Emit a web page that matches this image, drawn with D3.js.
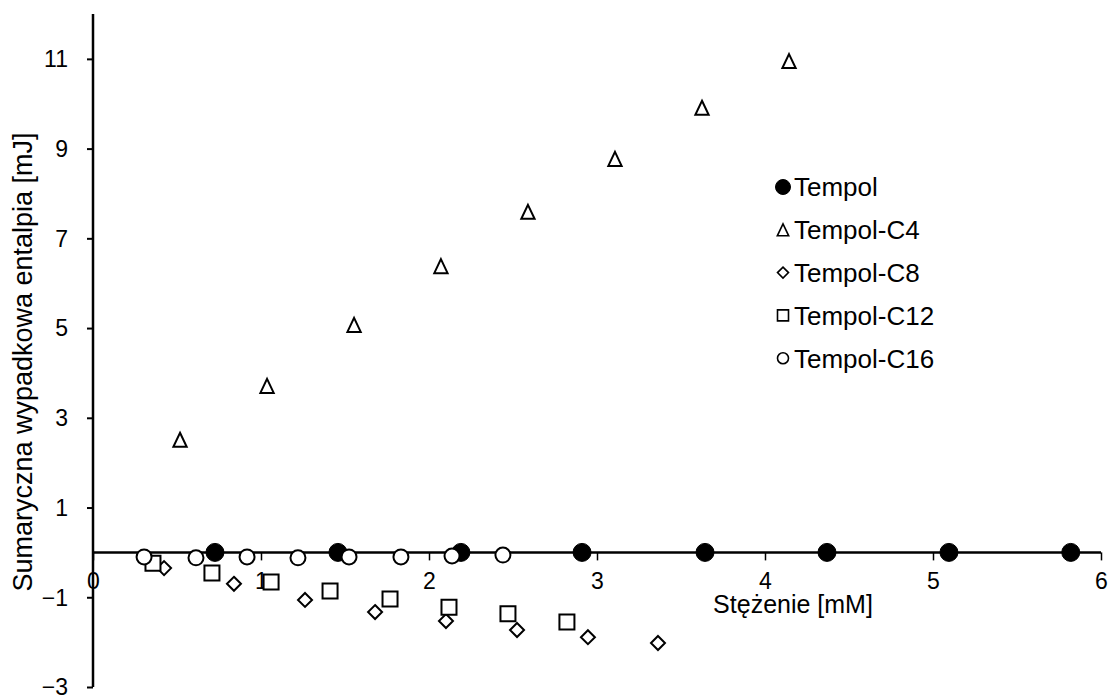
<!DOCTYPE html>
<html>
<head>
<meta charset="utf-8">
<script src="https://cdn.jsdelivr.net/npm/d3@7"></script>
<style>
  body { margin: 0; background: #fff; }
  text { font-family: Arial, "Liberation Sans", sans-serif; fill: #000; }
</style>
</head>
<body>
<svg id="chart" width="1109" height="695"></svg>
<script>
// data (x = Stężenie [mM], y = entalpia [mJ])
const tempolX = [0.726, 1.458, 2.19, 2.911, 3.643, 4.369, 5.095, 5.82];
const tempolY = [0, 0, 0, 0, 0, 0, 0, 0];
const c4X = [0.518, 1.036, 1.554, 2.071, 2.589, 3.107, 3.625, 4.143];
const c4Y = [2.51, 3.71, 5.07, 6.38, 7.59, 8.77, 9.91, 10.95];
const c8X = [0.423, 0.839, 1.262, 1.679, 2.101, 2.524, 2.946, 3.363];
const c8Y = [-0.35, -0.70, -1.06, -1.33, -1.53, -1.73, -1.89, -2.02];
const c12X = [0.357, 0.708, 1.060, 1.411, 1.768, 2.119, 2.470, 2.821];
const c12Y = [-0.24, -0.46, -0.66, -0.86, -1.04, -1.22, -1.37, -1.55];
const c16X = [0.304, 0.613, 0.917, 1.220, 1.524, 1.833, 2.137, 2.440];
const c16Y = [-0.10, -0.12, -0.10, -0.12, -0.10, -0.10, -0.08, -0.06];

const seriesNames = ["Tempol", "Tempol-C4", "Tempol-C8", "Tempol-C12", "Tempol-C16"];
const xTicks = [0, 1, 2, 3, 4, 5, 6];
const yTicks = [-3, -1, 1, 3, 5, 7, 9, 11];

const series = [
  {name: seriesNames[0], xs: tempolX, ys: tempolY, shape: "filled"},
  {name: seriesNames[1], xs: c4X, ys: c4Y, shape: "triangle"},
  {name: seriesNames[2], xs: c8X, ys: c8Y, shape: "diamond"},
  {name: seriesNames[3], xs: c12X, ys: c12Y, shape: "square"},
  {name: seriesNames[4], xs: c16X, ys: c16Y, shape: "circle"}
];

const svg = d3.select("#chart");

const x = d3.scaleLinear().domain([0, 6]).range([93, 1101]);
const y = d3.scaleLinear().domain([-3, 12]).range([687, 14]);

// marker paths
const markerPath = function(shape, s){
  if(shape === "filled" || shape === "circle"){
    return d3.symbol().type(d3.symbolCircle).size(Math.PI * s * s / 4)();
  }
  if(shape === "square"){
    const h = s / 2;
    return `M${-h},${-h}H${h}V${h}H${-h}Z`;
  }
  if(shape === "diamond"){
    const h = s / 2;
    return `M0,${-h}L${h},0L0,${h}L${-h},0Z`;
  }
  // triangle
  const h = s / 2;
  return `M0,${-h}L${h * 0.95},${h}L${-h * 0.95},${h}Z`;
};
const plotSize = {filled: 18, triangle: 14, diamond: 14, square: 15, circle: 15};
const legendSize = {filled: 15, triangle: 12, diamond: 11, square: 11, circle: 11};

// y axis
const yAxis = svg.append("g")
  .attr("transform", `translate(${x(0)},0)`)
  .call(d3.axisLeft(y).tickValues(yTicks).tickSize(6).tickSizeOuter(0).tickFormat(d3.format("d")));
yAxis.select(".domain").attr("stroke", "#000").attr("stroke-width", 2.5)
  .attr("d", `M0,${y(12)}V${y(-3)}`);
yAxis.selectAll(".tick line").attr("stroke", "#000").attr("stroke-width", 2);
yAxis.selectAll(".tick text")
  .attr("x", -25)
  .attr("dy", "0.34em")
  .style("font-size", "23px")
  .style("font-family", "Arial, 'Liberation Sans', sans-serif");

// x axis at y = 0
const xAxis = svg.append("g")
  .attr("transform", `translate(0,${y(0)})`)
  .call(d3.axisBottom(x).tickValues(xTicks).tickSize(8).tickSizeOuter(0).tickFormat(d3.format("d")));
xAxis.select(".domain").attr("stroke", "#000").attr("stroke-width", 2.5)
  .attr("d", `M${x(0)},0H${x(6)}`);
xAxis.selectAll(".tick line").attr("stroke", "#000").attr("stroke-width", 1.5);
xAxis.selectAll(".tick text")
  .attr("y", 20)
  .attr("dy", "0.71em")
  .style("font-size", "23px")
  .style("font-family", "Arial, 'Liberation Sans', sans-serif");

// axis titles
svg.append("text")
  .attr("x", 793).attr("y", 613)
  .attr("text-anchor", "middle")
  .style("font-size", "25px")
  .text("Stężenie [mM]");

svg.append("text")
  .attr("transform", "translate(32,362) rotate(-90)")
  .attr("text-anchor", "middle")
  .style("font-size", "27px")
  .text("Sumaryczna wypadkowa entalpia [mJ]");

// points
for(let s of series){
  const pts = s.xs.map((v, i) => ({x: v, y: s.ys[i]}));
  svg.append("g").selectAll("path")
    .data(pts)
    .enter()
    .append("path")
    .attr("transform", d => `translate(${x(d.x)},${y(d.y)})`)
    .attr("d", markerPath(s.shape, plotSize[s.shape]))
    .attr("fill", s.shape === "filled" ? "#000" : "#fff")
    .attr("stroke", "#000")
    .attr("stroke-width", s.shape === "filled" ? 1 : 2);
}

// legend
const legend = svg.append("g").attr("transform", "translate(783,187)");
const rows = legend.selectAll("g")
  .data(series)
  .enter()
  .append("g")
  .attr("transform", (d, i) => `translate(0,${i * 42.8})`);
rows.append("path")
  .attr("d", d => markerPath(d.shape, legendSize[d.shape]))
  .attr("fill", d => d.shape === "filled" ? "#000" : "#fff")
  .attr("stroke", "#000")
  .attr("stroke-width", d => d.shape === "filled" ? 1 : 1.6);
rows.append("text")
  .attr("x", 11)
  .attr("dy", "0.36em")
  .style("font-size", "26px")
  .text(d => d.name);
</script>
</body>
</html>
